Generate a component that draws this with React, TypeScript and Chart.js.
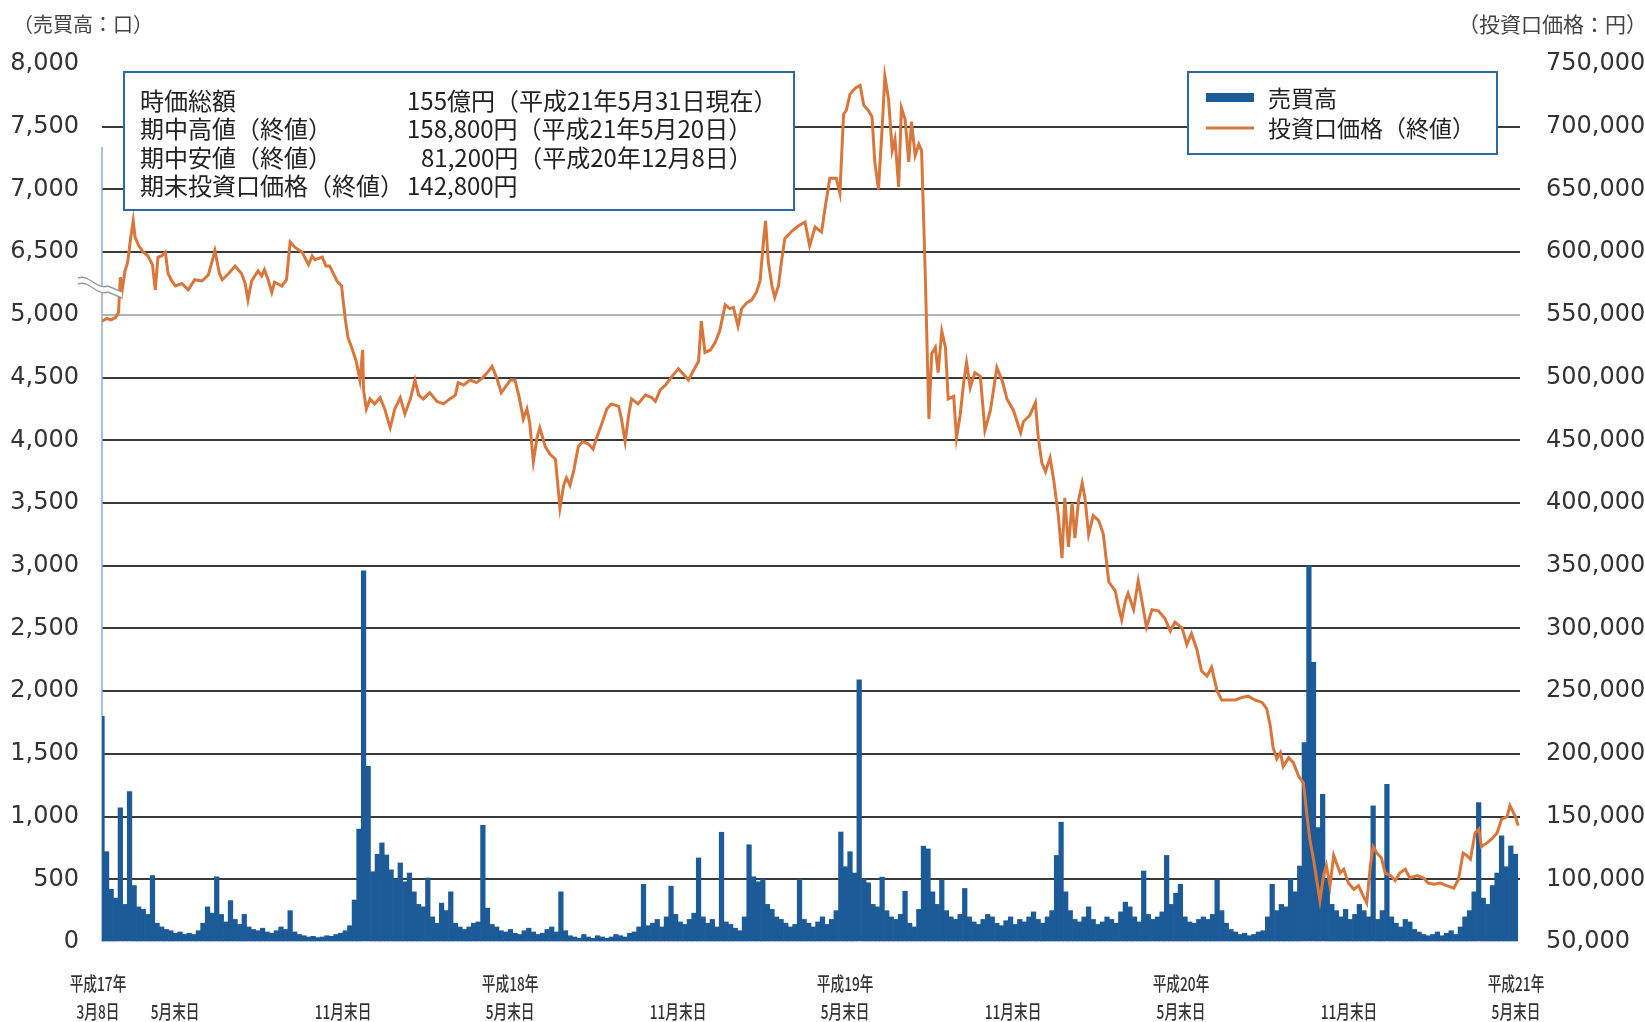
import React, { useEffect, useRef } from 'react';
import { Chart, registerables } from 'chart.js';

Chart.register(...registerables);

// Day offsets from 平成17年3月8日 (day 0) for each closing-price reading
const priceDays = [
  0, 5, 10, 15, 18, 20, 22, 25, 28, 31, 34, 36, 40, 45, 50, 55, 58, 61, 65, 69,
  72, 76, 80, 87, 94, 101, 109, 116, 123, 128, 131, 138, 145, 152, 156, 159, 163, 170, 174, 177,
  181, 185, 188, 196, 201, 205, 210, 218, 225, 229, 232, 240, 244, 248, 256, 261, 265, 268, 272, 277,
  281, 284, 285, 288, 292, 297, 303, 308, 314, 319, 325, 330, 336, 341, 345, 350, 357, 365, 372, 379,
  385, 388, 394, 401, 408, 415, 421, 425, 430, 435, 439, 445, 450, 455, 459, 463, 466, 470, 474, 477,
  483, 488, 494, 499, 503, 506, 510, 514, 519, 524, 530, 535, 539, 544, 550, 555, 563, 566, 570, 574,
  577, 584, 592, 599, 603, 608, 614, 621, 628, 633, 639, 644, 650, 653, 657, 663, 668, 673, 679, 684,
  688, 693, 697, 703, 708, 713, 717, 721, 723, 726, 730, 733, 737, 741, 744, 752, 759, 766, 771, 777,
  784, 788, 793, 800, 804, 808, 811, 815, 821, 826, 830, 835, 839, 842, 846, 850, 853, 857, 861, 864,
  868, 871, 875, 879, 882, 886, 890, 893, 897, 901, 904, 908, 911, 915, 919, 922, 928, 931, 935, 939,
  942, 946, 951, 957, 962, 968, 975, 981, 986, 993, 1001, 1004, 1011, 1017, 1020, 1024, 1028, 1033, 1037, 1042,
  1046, 1049, 1053, 1057, 1060, 1064, 1068, 1071, 1075, 1080, 1086, 1091, 1097, 1104, 1107, 1111, 1115, 1118, 1124, 1129,
  1133, 1138, 1144, 1151, 1158, 1164, 1169, 1177, 1182, 1187, 1193, 1198, 1204, 1209, 1215, 1220, 1227, 1235, 1242, 1249,
  1256, 1264, 1269, 1273, 1276, 1280, 1284, 1287, 1293, 1298, 1304, 1309, 1313, 1316, 1320, 1324, 1327, 1331, 1334, 1338,
  1342, 1345, 1349, 1353, 1358, 1364, 1369, 1374, 1378, 1382, 1385, 1389, 1394, 1398, 1404, 1409, 1414, 1420, 1425, 1433,
  1440, 1445, 1451, 1458, 1465, 1473, 1478, 1483, 1487, 1491, 1496, 1500, 1503, 1509, 1514, 1520, 1525, 1531, 1534, 1540,
  1543,
];

// 投資口価格（終値）, yen
const priceValues = [
  545000, 547000, 546000, 548000, 552000, 580000, 570000, 585000, 592000, 610000, 625000, 612000, 605000, 600000, 597000, 590000, 570000, 596000, 597000, 600000,
  583000, 577000, 573000, 575000, 570000, 578000, 577000, 582000, 601000, 583000, 578000, 583000, 589000, 583000, 575000, 562000, 577000, 585000, 581000, 586000,
  578000, 568000, 576000, 573000, 578000, 608000, 604000, 600000, 590000, 597000, 594000, 596000, 589000, 589000, 577000, 573000, 547000, 532000, 524000, 513000,
  498000, 522000, 490000, 475000, 483000, 479000, 484000, 475000, 460000, 475000, 484000, 471000, 483000, 498000, 486000, 483000, 488000, 481000, 479000, 483000,
  486000, 496000, 494000, 498000, 496000, 500000, 505000, 509000, 500000, 488000, 492000, 498000, 498000, 483000, 467000, 475000, 464000, 433000, 452000, 460000,
  445000, 439000, 435000, 396000, 414000, 420000, 414000, 426000, 445000, 449000, 447000, 443000, 452000, 462000, 475000, 479000, 477000, 467000, 449000, 471000,
  483000, 479000, 486000, 484000, 481000, 490000, 494000, 501000, 507000, 503000, 498000, 505000, 513000, 545000, 520000, 522000, 528000, 537000, 558000, 555000,
  556000, 541000, 555000, 560000, 562000, 568000, 577000, 611000, 625000, 592000, 573000, 564000, 573000, 596000, 611000, 617000, 621000, 624000, 605000, 620000,
  616000, 636000, 659000, 659000, 647000, 710000, 713000, 726000, 731000, 733000, 717000, 713000, 708000, 672000, 650000, 699000, 740000, 722000, 681000, 690000,
  652000, 715000, 706000, 672000, 704000, 677000, 686000, 681000, 582000, 467000, 519000, 524000, 504000, 537000, 524000, 483000, 485000, 452000, 470000, 497000,
  512000, 492000, 504000, 501000, 458000, 474000, 508000, 497000, 483000, 474000, 456000, 465000, 470000, 480000, 453000, 432000, 425000, 436000, 418000, 390000,
  356000, 404000, 365000, 400000, 372000, 402000, 416000, 404000, 375000, 390000, 386000, 375000, 337000, 330000, 319000, 307000, 322000, 328000, 315000, 338000,
  322000, 301000, 315000, 314000, 308000, 298000, 305000, 300000, 287000, 296000, 283000, 266000, 262000, 269000, 250000, 243000, 243000, 243000, 245000, 246000,
  243000, 241000, 236000, 222000, 205000, 196000, 201000, 190000, 197000, 193000, 182000, 177000, 150000, 132000, 116000, 97000, 83000, 103000, 111000, 95000,
  119000, 113000, 105000, 108000, 97000, 92000, 95000, 87000, 81200, 111000, 126000, 121000, 117000, 105000, 103000, 99000, 105000, 108000, 101000, 103000,
  101000, 97000, 96000, 97000, 95000, 93000, 100000, 121000, 119000, 116000, 137000, 140000, 126000, 129000, 132000, 137000, 148000, 150000, 158800, 150000,
  142800,
];

// 売買高（口）, one reading every 5 days from day 0
const volumeStepDays = 5;
const volumeValues = [
  1800, 720, 420, 350, 1070, 300, 1200, 450, 280, 260,
  220, 530, 150, 120, 100, 90, 70, 80, 60, 70,
  60, 90, 150, 280, 230, 520, 220, 160, 330, 180,
  140, 220, 120, 100, 90, 110, 80, 70, 90, 120,
  100, 250, 80, 60, 50, 40, 45, 35, 40, 50,
  45, 60, 70, 90, 130, 335, 900, 2960, 1400, 560,
  700, 790, 694, 575, 500, 630, 480, 550, 400, 300,
  280, 510, 200, 150, 310, 250, 400, 150, 120, 100,
  120, 150, 160, 930, 270, 140, 120, 90, 80, 100,
  70, 60, 90, 110, 80, 60, 70, 100, 120, 80,
  400, 90, 50, 40, 30, 60, 40, 30, 50, 40,
  30, 40, 60, 50, 40, 70, 80, 120, 460, 130,
  150, 180, 120, 200, 445, 220, 160, 140, 180, 230,
  670, 200, 150, 180, 120, 875, 160, 140, 110, 90,
  200, 775, 520, 480, 500, 300, 260, 200, 180, 150,
  120, 140, 500, 180, 150, 120, 160, 200, 140, 180,
  250, 877, 600, 720, 550, 2090, 500, 472, 300, 280,
  517, 250, 200, 180, 220, 405, 150, 120, 260, 764,
  742, 400, 300, 495, 250, 200, 180, 220, 427, 200,
  160, 140, 180, 220, 200, 150, 130, 170, 200, 140,
  180, 160, 200, 240, 180, 150, 200, 250, 690, 955,
  400, 250, 180, 160, 200, 280, 180, 140, 160, 200,
  180, 150, 240, 318, 280, 200, 160, 566, 220, 180,
  200, 240, 690, 300, 389, 460, 200, 160, 150, 180,
  200, 180, 220, 495, 250, 150, 100, 80, 60, 70,
  50, 60, 80, 90, 200, 460, 250, 300, 280, 500,
  400, 606, 1590, 3000, 2230, 912, 1178, 500, 300, 250,
  200, 260, 180, 220, 300, 250, 200, 1085, 180, 250,
  1258, 200, 150, 120, 180, 160, 100, 80, 60, 50,
  60, 80, 50, 70, 90, 60, 120, 200, 250, 400,
  1112, 350, 300, 450, 550, 846, 600, 766, 700,
];

const xMaxDay = 1545;
const xTickDays = [0, 84, 267, 449, 632, 814, 997, 1180, 1363, 1545];
const xTickTop = ['平成17年', '', '', '平成18年', '', '平成19年', '', '平成20年', '', '平成21年'];
const xTickBottom = ['3月8日', '5月末日', '11月末日', '5月末日', '11月末日', '5月末日', '11月末日', '5月末日', '11月末日', '5月末日'];

// left axis is broken between 5,000 and 6,500
const leftBreakAt = 5000;
const leftBreakSkip = 1000;

const infoLabels = ['時価総額', '期中高値（終値）', '期中安値（終値）', '期末投資口価格（終値）'];
const infoValues = ['155億円（平成21年5月31日現在）', '158,800円（平成21年5月20日）', '81,200円（平成20年12月8日）', '142,800円'];

const legendLabels = ['売買高', '投資口価格（終値）'];
const leftTitle = '（売買高：口）';
const rightTitle = '（投資口価格：円）';

const BAR_COLOR = '#1d5a98';
const LINE_COLOR = '#d9763b';
const BOX_COLOR = '#3169a6';
const JP = '"Noto Sans CJK JP", "Noto Sans", sans-serif';
const NUM = '"DejaVu Sans", "Liberation Sans", sans-serif';

const fmt = (n: number) => n.toLocaleString('en-US');

const decorPlugin = {
  id: 'decor',
  beforeDatasetsDraw(chart: any) {
    const { ctx, chartArea } = chart;
    ctx.save();
    ctx.strokeStyle = '#8eaed0';
    ctx.lineWidth = 1.5;
    ctx.beginPath();
    ctx.moveTo(chartArea.left, 147);
    ctx.lineTo(chartArea.left, chartArea.bottom);
    ctx.stroke();
    ctx.restore();
  },
  afterDraw(chart: any) {
    const { ctx } = chart;
    ctx.save();

    // axis titles
    ctx.fillStyle = '#444';
    ctx.textBaseline = 'middle';
    ctx.textAlign = 'left';
    ctx.font = `20px ${JP}`;
    ctx.fillText(leftTitle, 13, 24);
    ctx.textAlign = 'right';
    ctx.font = `21px ${JP}`;
    ctx.fillText(rightTitle, 1647, 24);

    // axis break mark
    const drawWave = (y0: number) => {
      ctx.beginPath();
      ctx.moveTo(78, y0);
      ctx.bezierCurveTo(90, y0 - 4, 96, y0 + 12, 108, y0 + 8);
      ctx.lineTo(122, y0 + 14);
    };
    ctx.fillStyle = '#ffffff';
    ctx.beginPath();
    ctx.moveTo(78, 278);
    ctx.bezierCurveTo(90, 274, 96, 290, 108, 286);
    ctx.lineTo(122, 292);
    ctx.lineTo(122, 298);
    ctx.lineTo(108, 292);
    ctx.bezierCurveTo(96, 296, 90, 280, 78, 284);
    ctx.closePath();
    ctx.fill();
    ctx.strokeStyle = '#9a9a9a';
    ctx.lineWidth = 1.5;
    drawWave(278);
    ctx.stroke();
    drawWave(284);
    ctx.stroke();

    // info box
    ctx.fillStyle = '#ffffff';
    ctx.fillRect(124, 72, 670, 138);
    ctx.strokeStyle = BOX_COLOR;
    ctx.lineWidth = 2;
    ctx.strokeRect(124, 72, 670, 138);
    ctx.fillStyle = '#222';
    ctx.font = `24px ${JP}`;
    ctx.textAlign = 'left';
    ctx.textBaseline = 'middle';
    const rowsY = [101, 129, 158, 186];
    const valueX = [407, 407, 421, 407];
    infoLabels.forEach((t, i) => {
      ctx.fillText(t, 140, rowsY[i]);
      ctx.fillText(infoValues[i], valueX[i], rowsY[i]);
    });

    // legend box
    ctx.fillStyle = '#ffffff';
    ctx.fillRect(1188, 72, 309, 82);
    ctx.strokeStyle = BOX_COLOR;
    ctx.lineWidth = 2;
    ctx.strokeRect(1188, 72, 309, 82);
    ctx.fillStyle = BAR_COLOR;
    ctx.fillRect(1206, 93, 48, 9);
    ctx.strokeStyle = LINE_COLOR;
    ctx.lineWidth = 3;
    ctx.beginPath();
    ctx.moveTo(1206, 128);
    ctx.lineTo(1254, 128);
    ctx.stroke();
    ctx.fillStyle = '#222';
    ctx.font = `23px ${JP}`;
    ctx.fillText(legendLabels[0], 1268, 98);
    ctx.fillText(legendLabels[1], 1268, 128);

    // x-axis labels (condensed)
    const xs = chart.scales.x;
    ctx.fillStyle = '#333';
    ctx.font = `500 19px ${JP}`;
    ctx.textAlign = 'center';
    const condensed = (t: string, x: number, y: number) => {
      if (!t) return;
      ctx.save();
      ctx.translate(x, y);
      ctx.scale(0.72, 1);
      ctx.fillText(t, 0, 0);
      ctx.restore();
    };
    xTickDays.forEach((d, i) => {
      const px = xs.getPixelForValue(d) - 4;
      condensed(xTickTop[i], px, 984);
      condensed(xTickBottom[i], px, 1012);
    });

    ctx.restore();
  },
};

export default function App() {
  const canvasRef = useRef<HTMLCanvasElement | null>(null);

  useEffect(() => {
    const canvas = canvasRef.current;
    if (!canvas) return;
    const chart = new Chart(canvas, {
      type: 'bar',
      data: {
        datasets: [
          {
            type: 'line',
            label: legendLabels[1],
            data: priceDays.map((d, i) => ({ x: d, y: priceValues[i] })),
            yAxisID: 'y2',
            borderColor: LINE_COLOR,
            borderWidth: 3,
            pointRadius: 0,
            tension: 0,
            order: 0,
          } as any,
          {
            type: 'bar',
            label: legendLabels[0],
            data: volumeValues.map((v, i) => ({ x: i * volumeStepDays, y: v })),
            yAxisID: 'y',
            backgroundColor: BAR_COLOR,
            borderWidth: 0,
            barPercentage: 1,
            categoryPercentage: 1,
            order: 1,
          } as any,
        ],
      },
      options: {
        responsive: false,
        animation: false,
        devicePixelRatio: 1,
        layout: { padding: { top: 64, left: 0, right: 0, bottom: 0 } },
        plugins: {
          legend: { display: false },
          tooltip: { enabled: false },
          title: { display: false },
        },
        scales: {
          x: {
            type: 'linear',
            min: 0,
            max: xMaxDay,
            offset: false,
            grid: { display: false },
            border: { display: false },
            ticks: { display: false },
            afterFit: (s: any) => {
              s.height = 80;
            },
          },
          y: {
            type: 'linear',
            position: 'left',
            min: 0,
            max: 7000,
            border: { display: false },
            grid: {
              drawTicks: false,
              lineWidth: 2,
              color: (c: any) => {
                const v = c.tick ? c.tick.value : 0;
                if (v === 0 || v === 7000) return 'rgba(0,0,0,0)';
                if (v === leftBreakAt) return '#b4b4b4';
                return '#3a3a3a';
              },
            },
            ticks: {
              stepSize: 500,
              autoSkip: false,
              padding: 23,
              color: '#333',
              font: { family: NUM, size: 24 },
              callback: (v: any) => fmt(v <= leftBreakAt ? v : v + leftBreakSkip),
            },
            afterFit: (s: any) => {
              s.width = 102;
            },
          },
          y2: {
            type: 'linear',
            position: 'right',
            min: 50000,
            max: 750000,
            border: { display: false },
            grid: { display: false, drawOnChartArea: false },
            ticks: {
              stepSize: 50000,
              autoSkip: false,
              padding: 18,
              color: '#333',
              font: { family: NUM, size: 24 },
              callback: (v: any) => fmt(v),
            },
            afterFit: (s: any) => {
              s.width = 125;
            },
          },
        },
      } as any,
      plugins: [decorPlugin],
    });
    return () => chart.destroy();
  }, []);

  return (
    <div style={{ position: 'fixed', left: 0, top: 0, width: 1645, height: 1022, background: '#ffffff' }}>
      <canvas ref={canvasRef} width={1645} height={1022} style={{ width: 1645, height: 1022, display: 'block' }} />
    </div>
  );
}
